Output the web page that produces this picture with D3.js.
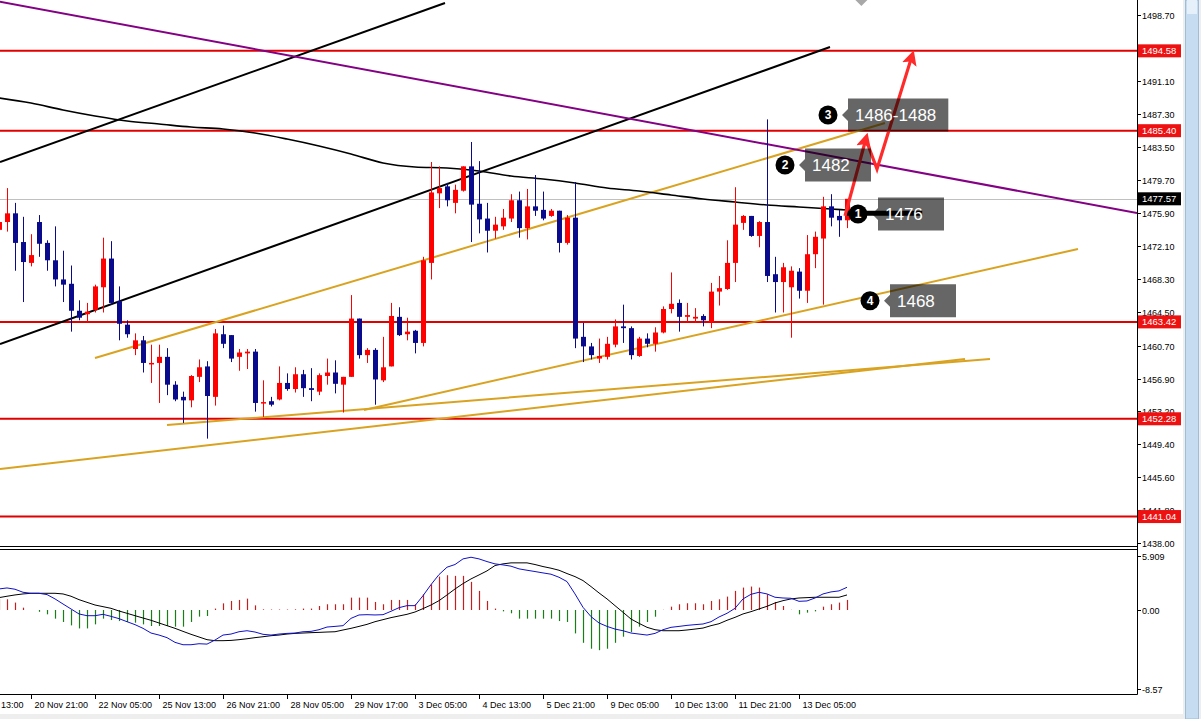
<!DOCTYPE html>
<html><head><meta charset="utf-8">
<script src="https://cdn.jsdelivr.net/npm/d3@7"></script>
<style>html,body{margin:0;padding:0;background:#fff;overflow:hidden}svg{display:block}</style>
</head><body>
<script>
// ---------- DATA ----------
const openP = [1474.0,1474.9,1475.9,1472.6,1470.2,1474.9,1472.5,1470.5,1468.3,1467.8,1464.7,1464.3,1464.8,1467.4,1470.7,1465.8,1463.1,1460.3,1461.3,1458.6,1458.7,1459.4,1456.2,1454.8,1454.4,1457.1,1458.3,1454.8,1462.0,1461.9,1459.4,1459.8,1460.0,1454.1,1454.3,1454.5,1456.4,1455.7,1457.4,1455.8,1455.4,1457.2,1457.6,1456.2,1457.1,1463.8,1459.6,1460.2,1456.7,1458.3,1464.0,1462.0,1462.4,1461.0,1470.2,1478.2,1479.0,1477.1,1478.5,1481.3,1477.0,1475.3,1473.9,1474.4,1475.3,1477.4,1474.2,1476.7,1476.3,1475.6,1476.2,1472.5,1475.4,1461.7,1460.6,1459.2,1459.4,1460.8,1462.9,1462.7,1459.5,1461.5,1460.9,1462.2,1464.9,1465.6,1464.0,1463.8,1464.1,1463.4,1466.9,1467.2,1470.2,1474.8,1475.6,1473.3,1474.9,1468.9,1468.0,1467.4,1469.2,1467.0,1471.2,1473.0,1476.7,1475.6,1475.1];
const highP = [1475.7,1478.8,1477.1,1475.5,1473.5,1475.7,1472.8,1474.4,1471.6,1469.9,1465.9,1465.6,1467.7,1473.1,1472.7,1467.5,1463.6,1462.1,1461.8,1460.8,1460.8,1460.4,1456.6,1455.4,1457.3,1459.1,1458.9,1462.6,1463.0,1461.9,1460.3,1460.3,1460.3,1456.7,1454.8,1458.3,1457.5,1458.2,1457.9,1458.1,1457.5,1459.2,1459.0,1457.1,1466.5,1463.8,1460.4,1460.4,1461.7,1465.6,1465.1,1463.9,1462.5,1470.9,1481.8,1481.3,1479.4,1479.2,1481.3,1484.1,1481.9,1477.1,1475.5,1476.4,1478.1,1478.4,1478.7,1480.3,1478.4,1476.4,1476.2,1475.7,1479.5,1463.3,1461.0,1461.5,1461.7,1463.7,1465.4,1462.9,1461.7,1462.1,1462.8,1465.2,1469.1,1466.0,1465.6,1465.0,1464.3,1467.9,1468.7,1472.8,1478.9,1475.7,1475.6,1475.0,1486.7,1470.9,1470.2,1469.8,1469.6,1473.4,1473.8,1477.8,1478.1,1476.3,1477.5];
const lowP = [1473.4,1473.8,1469.3,1465.7,1469.8,1470.9,1469.3,1467.5,1465.7,1462.3,1463.6,1463.4,1464.5,1464.5,1465.4,1461.3,1461.6,1459.6,1457.6,1456.4,1454.1,1455.0,1454.3,1451.8,1453.6,1456.5,1450.0,1453.8,1460.4,1458.8,1457.8,1458.0,1453.1,1452.5,1453.7,1454.4,1455.5,1455.3,1454.8,1454.3,1455.0,1456.2,1455.2,1453.0,1457.1,1459.2,1458.7,1453.9,1456.5,1458.3,1461.8,1461.3,1459.8,1460.6,1468.3,1476.5,1476.7,1475.9,1478.4,1472.6,1473.6,1471.4,1473.0,1474.0,1474.9,1473.1,1472.9,1475.6,1475.1,1475.5,1471.4,1472.3,1460.4,1458.8,1459.1,1458.7,1459.1,1460.5,1461.0,1459.1,1459.4,1460.5,1460.0,1462.1,1464.4,1462.3,1463.4,1463.3,1462.9,1462.7,1465.3,1467.1,1468.0,1474.0,1473.2,1472.0,1468.0,1464.5,1464.5,1461.6,1466.1,1465.6,1469.6,1465.4,1474.4,1473.2,1474.2];
const closeP = [1474.9,1475.9,1472.5,1470.3,1471.1,1472.4,1470.5,1468.3,1467.7,1464.7,1463.9,1464.6,1467.5,1470.7,1465.6,1463.2,1462.0,1461.3,1458.7,1458.7,1459.4,1456.2,1454.5,1454.4,1457.2,1458.2,1454.9,1462.1,1460.9,1459.2,1459.9,1460.0,1454.1,1454.2,1453.9,1456.4,1455.7,1457.4,1455.8,1455.6,1457.3,1457.6,1456.3,1457.1,1463.8,1459.6,1460.2,1456.8,1458.2,1464.1,1461.9,1462.3,1461.0,1470.5,1478.3,1478.8,1477.4,1478.6,1481.3,1476.9,1475.2,1473.9,1474.6,1475.4,1477.4,1474.2,1476.7,1476.2,1475.3,1476.2,1472.5,1475.4,1461.5,1460.6,1459.6,1459.5,1460.9,1462.9,1462.7,1459.6,1461.5,1460.9,1462.2,1464.9,1465.5,1464.0,1464.2,1464.0,1463.6,1466.9,1467.3,1470.2,1474.6,1475.6,1473.3,1474.9,1468.7,1468.0,1469.7,1469.3,1467.0,1471.2,1473.2,1476.7,1475.4,1475.1,1477.57];

// moving average (bar index, price)
const maIdx = [0,4,8,12,16,20,24,28,32,36,40,44,48,52,56,60,64,68,72,76,80,84,88,92,96,100,104,106];
const maVal = [1489.16,1488.58,1487.78,1487.09,1486.51,1486.17,1485.82,1485.59,1485.13,1484.44,1483.64,1482.72,1481.69,1481.23,1481.11,1480.77,1480.19,1479.85,1479.39,1478.81,1478.47,1478.01,1477.55,1477.20,1476.86,1476.63,1476.40,1476.28];

// MACD histogram, main (blue) and signal (black)
const macdHist = [1.2,1.16,0.8,0.25,0,-0.2,-0.47,-0.94,-1.3,-1.67,-2.0,-2.0,-1.56,-0.94,-1.09,-1.2,-1.3,-1.38,-1.56,-1.74,-1.74,-1.74,-1.81,-1.81,-1.3,-0.72,-0.65,0.15,0.72,0.98,1.09,1.23,0.5,0.07,0.05,0.05,0.05,0.07,0.15,0.15,0.43,0.62,0.62,0.62,1.34,1.34,1.34,0.87,0.62,1.09,1.09,1.09,0.62,1.7,2.79,3.62,3.77,3.7,3.7,3.05,2.07,0.98,0.15,-0.15,-0.36,-0.94,-0.94,-0.94,-0.94,-0.94,-1.2,-1.3,-2.54,-3.56,-4.2,-4.36,-4.2,-3.56,-2.9,-2.4,-1.81,-1.3,-0.73,0.02,0.36,0.62,0.73,0.73,0.62,0.98,1.16,1.45,2.07,2.43,2.54,2.43,1.7,0.87,0.43,0.02,-0.47,-0.29,-0.15,0.36,0.62,0.8,1.09];
const macdMain = [2.28,2.39,2.25,1.92,1.81,1.81,1.67,1.2,0.65,0.11,-0.43,-0.62,-0.62,-0.47,-0.69,-0.94,-1.27,-1.59,-1.99,-2.5,-2.72,-3.0,-3.51,-3.77,-3.77,-3.66,-3.7,-3.26,-2.72,-2.61,-2.36,-2.25,-2.39,-2.64,-2.72,-2.61,-2.54,-2.5,-2.36,-2.32,-2.14,-1.85,-1.78,-1.7,-0.91,-0.54,-0.51,-0.54,-0.51,-0.14,0.25,0.47,0.47,1.55,2.75,3.84,4.64,4.93,5.54,5.72,5.54,5.25,5.0,4.89,4.75,4.46,4.31,4.17,4.02,3.88,3.55,3.08,1.74,0.29,-0.72,-1.41,-1.78,-2.07,-2.25,-2.5,-2.61,-2.72,-2.54,-2.14,-1.88,-1.78,-1.67,-1.59,-1.52,-1.27,-0.76,-0.36,0.18,1.2,1.7,1.92,1.74,1.38,1.3,1.27,0.94,0.98,1.3,1.74,1.96,2.07,2.46];
const macdSignal = [1.34,1.49,1.63,1.74,1.81,1.81,1.81,1.81,1.74,1.49,1.12,0.83,0.54,0.36,0.18,-0.11,-0.36,-0.62,-0.87,-1.12,-1.41,-1.7,-1.99,-2.32,-2.64,-2.93,-3.22,-3.33,-3.33,-3.3,-3.22,-3.12,-3.0,-2.9,-2.79,-2.72,-2.61,-2.54,-2.5,-2.46,-2.43,-2.39,-2.36,-2.17,-1.99,-1.78,-1.56,-1.27,-1.05,-0.83,-0.65,-0.47,-0.22,0.15,0.54,1.01,1.63,2.28,2.86,3.37,3.8,4.24,4.82,5.0,5.11,5.11,5.11,4.93,4.71,4.53,4.31,3.95,3.62,3.19,2.54,1.85,1.2,0.47,-0.25,-0.98,-1.45,-1.88,-2.14,-2.25,-2.25,-2.25,-2.17,-2.07,-1.96,-1.7,-1.49,-1.12,-0.8,-0.43,-0.18,0.11,0.4,0.76,1.01,1.2,1.3,1.34,1.38,1.38,1.38,1.38,1.63];

// horizontal levels
const redLevels = [1494.58, 1485.40, 1463.42, 1452.28, 1441.04];
const bidPrice = 1477.57;

// trend lines: [barIndex1, price1, barIndex2, price2]
const purpleLine = [[-1, 1500.42, 142.25, 1475.94]];
const blackLines = [[0.125, 1481.80, 55.75, 1500.08], [0.125, 1460.88, 103.875, 1495.02]];
const goldLines = [[12, 1459.27, 110.75, 1486.28], [45.625, 1453.29, 134.875, 1471.80], [21, 1451.57, 123.875, 1459.16], [0.125, 1446.51, 120.75, 1459.16]];

// price axis tick labels (1494.90 is hidden under the 1494.58 tag in the source)
const priceTicks = [1498.70,1491.10,1487.30,1483.50,1479.70,1475.90,1472.10,1468.30,1464.50,1460.70,1456.90,1453.20,1449.40,1445.60,1441.80,1438.00];
const macdTicks = [5.909, 0, -8.57];
const macdTickLabels = ["5.909", "0.00", "-8.57"];

// time axis labels (bar index, text); the first one is only partly visible
const timeIdx = [4,12,20,28,36,44,52,60,68,76,84,92,100];
const timeLabels = ["20 Nov 21:00","22 Nov 05:00","25 Nov 13:00","26 Nov 21:00","28 Nov 05:00","29 Nov 17:00","3 Dec 05:00","4 Dec 13:00","5 Dec 21:00","9 Dec 05:00","10 Dec 13:00","11 Dec 21:00","13 Dec 05:00"];
const partialTimeLabel = "13:00";

// annotations
const annNum = ["1","2","3","4"];
const annText = ["1476","1482","1486-1488","1468"];
const annIdx = [107.375, 98.25, 103.625, 108.875];
const annPrice = [1475.82, 1481.46, 1487.20, 1465.86];
const annLink = [105.75, 1475.9, 115.4]; // thick black link of label 1
// red forecast arrows (bar index, price)
const arrow1 = [[105.75, 1475.6],[108.375, 1484.5]];
const arrow2 = [[108.4, 1484.3],[109.75, 1481.0],[114.125, 1494.0]];

// ---------- DRAW ----------
const W = 1201, H = 719;
const plotR = 1137, mainTop = 0, mainBot = 546, macdTop = 549, macdBot = 694;
const svg = d3.select("body").append("svg").attr("width", W).attr("height", H)
  .style("font-family", "'Liberation Sans', Arial, sans-serif");
svg.append("rect").attr("width", W).attr("height", H).attr("fill", "#fff");

const x = d3.scaleLinear().domain([0, 106]).range([-1, 847]);
const y = d3.scaleLinear().domain([1438, 1498.7]).range([543, 15]);
const ym = d3.scaleLinear().domain([-8.57, 5.909]).range([689, 555.5]);

const defs = svg.append("defs");
defs.append("clipPath").attr("id", "cm").append("rect").attr("x", 0).attr("y", mainTop).attr("width", plotR).attr("height", mainBot - mainTop);
defs.append("clipPath").attr("id", "cd").append("rect").attr("x", 0).attr("y", macdTop).attr("width", plotR).attr("height", macdBot - macdTop);
defs.append("marker").attr("id", "ah").attr("viewBox", "0 0 10 10").attr("refX", 6).attr("refY", 5)
  .attr("markerUnits", "userSpaceOnUse").attr("markerWidth", 15).attr("markerHeight", 15).attr("orient", "auto")
  .append("path").attr("d", "M0,0 L10,5 L0,10 L2,5 z").attr("fill", "#ff2a2a");

const gm = svg.append("g").attr("clip-path", "url(#cm)");

// bid line
gm.append("line").attr("x1", 0).attr("x2", plotR).attr("y1", Math.round(y(bidPrice)) + 0.5).attr("y2", Math.round(y(bidPrice)) + 0.5)
  .attr("stroke", "#c0c0c0").attr("stroke-width", 1);

// red levels
gm.selectAll(".lvl").data(redLevels).join("line")
  .attr("x1", 0).attr("x2", plotR).attr("y1", d => y(d)).attr("y2", d => y(d))
  .attr("stroke", "#e00000").attr("stroke-width", 2);

function drawTL(data, color, w) {
  gm.selectAll(null).data(data).join("line")
    .attr("x1", d => x(d[0])).attr("y1", d => y(d[1])).attr("x2", d => x(d[2])).attr("y2", d => y(d[3]))
    .attr("stroke", color).attr("stroke-width", w);
}
drawTL(goldLines, "#d9a321", 2);
drawTL(blackLines, "#000", 2);
drawTL(purpleLine, "#840084", 2);

// moving average
gm.append("path").datum(maIdx.map((d, i) => [d, maVal[i]]))
  .attr("d", d3.line().x(d => x(d[0])).y(d => y(d[1])).curve(d3.curveMonotoneX))
  .attr("fill", "none").attr("stroke", "#000").attr("stroke-width", 1.6);

// candles
const bars = openP.map((o, i) => ({i, o, h: highP[i], l: lowP[i], c: closeP[i]}));
const cg = gm.append("g");
cg.selectAll(".wick").data(bars).join("line")
  .attr("x1", d => Math.round(x(d.i)) + 0.5).attr("x2", d => Math.round(x(d.i)) + 0.5)
  .attr("y1", d => y(d.h)).attr("y2", d => y(d.l))
  .attr("stroke", d => d.c >= d.o ? "#ff0000" : "#0a0a8c").attr("stroke-width", 1);
cg.selectAll(".body").data(bars).join("rect")
  .attr("x", d => Math.round(x(d.i)) - 2).attr("width", 5)
  .attr("y", d => y(Math.max(d.o, d.c)))
  .attr("height", d => Math.max(1.5, Math.abs(y(d.o) - y(d.c))))
  .attr("fill", d => d.c >= d.o ? "#ff0000" : "#0a0a8c");

// annotation link
gm.append("line").attr("x1", x(annLink[0])).attr("x2", x(annLink[2])).attr("y1", y(annLink[1])).attr("y2", y(annLink[1]))
  .attr("stroke", "#000").attr("stroke-width", 5);

// arrows
const lineP = d3.line().x(d => x(d[0])).y(d => y(d[1]));
[arrow1, arrow2].forEach(a => {
  gm.append("path").datum(a).attr("d", lineP).attr("fill", "none")
    .attr("stroke", "#ff2a2a").attr("stroke-width", 3.2).attr("stroke-linejoin", "miter")
    .attr("marker-end", "url(#ah)");
});

// annotations
annNum.forEach((n, k) => {
  const cx = x(annIdx[k]), cy = y(annPrice[k]);
  const g = gm.append("g");
  const bx = cx + 20;
  const t = g.append("text").attr("x", bx + 7).attr("y", cy).attr("dy", "0.36em")
    .attr("font-size", 17).attr("fill", "#fff").attr("font-family", "'Liberation Sans', Arial, sans-serif").text(annText[k]);
  const tw = t.node().getComputedTextLength();
  const bw = Math.max(66, tw + 19);
  g.insert("path", "text").attr("d", `M${bx},${cy - 16.5} h${bw} v33 h${-bw} v${-10.5} l-6,-6 l6,-6 z`)
    .attr("fill", "rgba(0,0,0,0.6)");
  g.append("circle").attr("cx", cx).attr("cy", cy).attr("r", 9.5).attr("fill", "#000");
  g.append("text").attr("x", cx).attr("y", cy).attr("dy", "0.36em").attr("text-anchor", "middle")
    .attr("font-size", 12).attr("font-weight", "bold").attr("fill", "#fff").text(n);
});

// chart shift marker
svg.append("path").attr("d", `M${x(107.8) - 6},0 L${x(107.8) + 6},0 L${x(107.8)},6 z`).attr("fill", "#a8a8a8");

// ---- MACD ----
const gd = svg.append("g").attr("clip-path", "url(#cd)");
gd.selectAll(".hist").data(macdHist).join("line")
  .attr("x1", (d, i) => Math.round(x(i)) + 0.5).attr("x2", (d, i) => Math.round(x(i)) + 0.5)
  .attr("y1", ym(0)).attr("y2", d => ym(d))
  .attr("stroke", d => d >= 0 ? "#c41e1e" : "#1a7d1a").attr("stroke-width", 1.2);
gd.append("path").datum(macdSignal).attr("d", d3.line().x((d, i) => x(i)).y(d => ym(d)))
  .attr("fill", "none").attr("stroke", "#000").attr("stroke-width", 1);
gd.append("path").datum(macdMain).attr("d", d3.line().x((d, i) => x(i)).y(d => ym(d)))
  .attr("fill", "none").attr("stroke", "#1010c8").attr("stroke-width", 1);

// ---- frames ----
const fr = svg.append("g").attr("stroke", "#000").attr("stroke-width", 1);
fr.append("line").attr("x1", 0).attr("x2", plotR + 0.5).attr("y1", mainBot + 0.5).attr("y2", mainBot + 0.5);
fr.append("line").attr("x1", 0).attr("x2", plotR + 0.5).attr("y1", macdTop + 0.5).attr("y2", macdTop + 0.5);
fr.append("line").attr("x1", 0).attr("x2", plotR + 0.5).attr("y1", macdBot + 0.5).attr("y2", macdBot + 0.5);
fr.append("line").attr("x1", plotR + 0.5).attr("x2", plotR + 0.5).attr("y1", 0).attr("y2", macdBot + 0.5);

// ---- price axis ----
const ax = svg.append("g");
priceTicks.forEach(v => {
  const yy = Math.round(y(v)) + 0.5;
  ax.append("line").attr("x1", plotR).attr("x2", plotR + 4).attr("y1", yy).attr("y2", yy).attr("stroke", "#000");
  ax.append("text").attr("x", plotR + 5).attr("y", yy).attr("dy", "0.35em").attr("font-size", 9).attr("fill", "#000").text(v.toFixed(2));
});
function tag(v, col) {
  const yy = y(v);
  ax.append("rect").attr("x", plotR + 1).attr("y", yy - 6.5).attr("width", 43).attr("height", 13).attr("fill", col);
  ax.append("text").attr("x", plotR + 5).attr("y", yy).attr("dy", "0.35em").attr("font-size", 9.5).attr("fill", "#fff").text(v.toFixed(2));
}
redLevels.forEach(v => tag(v, "#ee1111"));
tag(bidPrice, "#000");
macdTicks.forEach((v, k) => {
  const yy = Math.round(ym(v)) + 0.5;
  ax.append("line").attr("x1", plotR).attr("x2", plotR + 4).attr("y1", yy).attr("y2", yy).attr("stroke", "#000");
  ax.append("text").attr("x", plotR + 5).attr("y", yy).attr("dy", "0.35em").attr("font-size", 9).attr("fill", "#000").text(macdTickLabels[k]);
});

// ---- time axis ----
timeIdx.forEach((v, k) => {
  const xx = Math.round(x(v)) + 0.5;
  ax.append("line").attr("x1", xx).attr("x2", xx).attr("y1", macdBot).attr("y2", macdBot + 5).attr("stroke", "#000");
  ax.append("text").attr("x", xx + 3).attr("y", 708).attr("font-size", 9).attr("fill", "#000").text(timeLabels[k]);
});
ax.append("text").attr("x", 1).attr("y", 708).attr("font-size", 9).attr("fill", "#000").text(partialTimeLabel);

// ---- window chrome ----
svg.append("rect").attr("x", 0).attr("y", 714).attr("width", W).attr("height", 5).attr("fill", "#eeeeee");
svg.append("rect").attr("x", 1183).attr("y", 0).attr("width", 18).attr("height", H).attr("fill", "#eeeeee");
svg.append("rect").attr("x", 1185.5).attr("y", 0).attr("width", 13).attr("height", H).attr("fill", "#c6dcf0").attr("stroke", "#9fbcd8");
svg.append("rect").attr("x", 1187).attr("y", 0).attr("width", 10).attr("height", 14).attr("fill", "#e6f0fa");
</script>
</body></html>
